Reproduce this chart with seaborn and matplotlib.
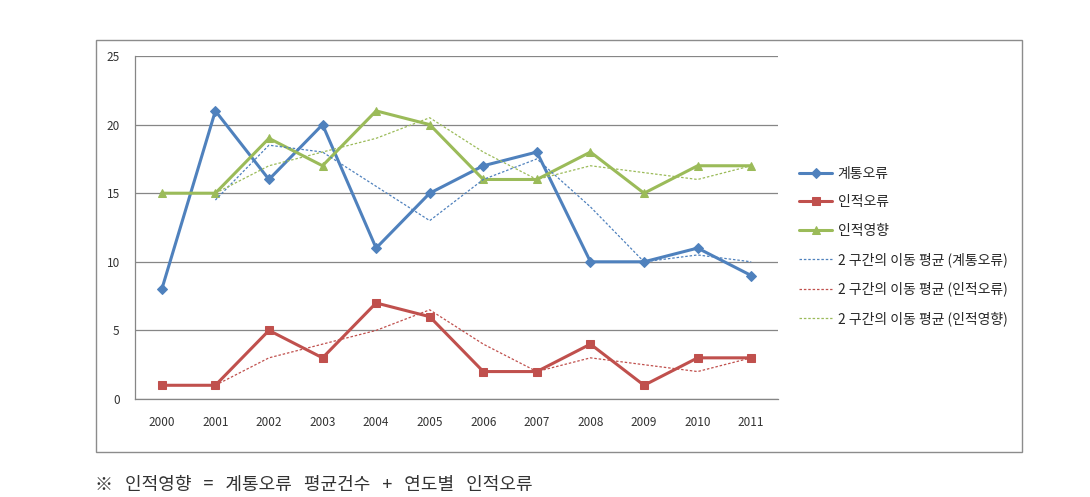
import numpy as np
import pandas as pd
import matplotlib
matplotlib.use("Agg")
import matplotlib.pyplot as plt
from matplotlib.patches import Rectangle
import seaborn as sns

years = ["2000", "2001", "2002", "2003", "2004", "2005",
         "2006", "2007", "2008", "2009", "2010", "2011"]
system_err = [8, 21, 16, 20, 11, 15, 17, 18, 10, 10, 11, 9]
human_err = [1, 1, 5, 3, 7, 6, 2, 2, 4, 1, 3, 3]
human_eff = [15, 15, 19, 17, 21, 20, 16, 16, 18, 15, 17, 17]

# 2-period moving averages (start at 2001)
ma_years = years[1:]
ma_system = [14.5, 18.5, 18, 15.5, 13, 16, 17.5, 14, 10, 10.5, 10]
ma_human_err = [1, 3, 4, 5, 6.5, 4, 2, 3, 2.5, 2, 3]
ma_human_eff = [15, 17, 18, 19, 20.5, 18, 16, 17, 16.5, 16, 17]

labels = ["계통오류", "인적오류", "인적영향",
          "2 구간의 이동 평균 (계통오류)",
          "2 구간의 이동 평균 (인적오류)",
          "2 구간의 이동 평균 (인적영향)"]
footnote = "※   인적영향   =   계통오류   평균건수   +   연도별   인적오류"

blue, red, green = "#4F81BD", "#C0504D", "#9BBB59"

sns.set_style("white")
plt.rcParams["font.family"] = ["Noto Sans CJK KR", "DejaVu Sans"]

fig = plt.figure(figsize=(10.9, 4.97), dpi=100)
# outer chart box
fig.patches.append(Rectangle((96 / 1090, 1 - 452 / 497), (1022 - 96) / 1090, (452 - 40) / 497,
                             transform=fig.transFigure, fill=False,
                             edgecolor="#8c8c8c", linewidth=1.0))
ax = fig.add_axes([135 / 1090, 1 - 399 / 497, (778 - 135) / 1090, (399 - 56) / 497])

main = pd.DataFrame({"year": years, "sys": system_err, "herr": human_err, "heff": human_eff})
ma = pd.DataFrame({"year": ma_years, "sys": ma_system, "herr": ma_human_err, "heff": ma_human_eff})

sns.lineplot(data=main, x="year", y="sys", ax=ax, color=blue, lw=2.2, marker="D",
             markersize=5, markeredgecolor=blue, label=labels[0], sort=False)
sns.lineplot(data=main, x="year", y="herr", ax=ax, color=red, lw=2.2, marker="s",
             markersize=6, markeredgecolor=red, label=labels[1], sort=False)
sns.lineplot(data=main, x="year", y="heff", ax=ax, color=green, lw=2.2, marker="^",
             markersize=6, markeredgecolor=green, label=labels[2], sort=False)
sns.lineplot(data=ma, x="year", y="sys", ax=ax, color=blue, lw=0.9, linestyle=(0, (2, 1.5)),
             label=labels[3], sort=False)
sns.lineplot(data=ma, x="year", y="herr", ax=ax, color=red, lw=0.9, linestyle=(0, (2, 1.5)),
             label=labels[4], sort=False)
sns.lineplot(data=ma, x="year", y="heff", ax=ax, color=green, lw=0.9, linestyle=(0, (2, 1.5)),
             label=labels[5], sort=False)

ax.set_xlim(-0.5, len(years) - 0.5)
ax.set_ylim(0, 25)
ax.set_yticks([0, 5, 10, 15, 20, 25])
ax.set_xlabel("")
ax.set_ylabel("")
ax.grid(axis="y", color="#868686", linewidth=0.9)
ax.set_axisbelow(True)
for s in ["top", "right"]:
    ax.spines[s].set_visible(False)
for s in ["left", "bottom"]:
    ax.spines[s].set_color("#868686")
    ax.spines[s].set_linewidth(0.9)
ax.set_xticks(np.arange(-0.5, len(years), 1), minor=True)
ax.tick_params(axis="x", which="major", length=0, pad=12, labelsize=8.5, colors="#333333")
ax.tick_params(axis="x", which="minor", length=5, color="#868686", direction="out")
ax.tick_params(axis="y", length=5, color="#868686", direction="out", labelsize=8.5,
               colors="#333333", pad=6)
ax.tick_params(axis="x", labelcolor="#333333")

ax.legend(loc="center left", bbox_to_anchor=(1.013, 0.445), frameon=False, fontsize=10,
          handlelength=2.4, labelspacing=1.05, handletextpad=0.4)

fig.text(95 / 1090, 1 - 485 / 497, footnote, fontsize=13, va="center", ha="left", color="#333333")

fig.savefig("out.png", dpi=100, facecolor="white")
